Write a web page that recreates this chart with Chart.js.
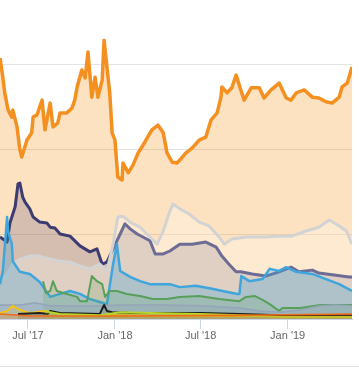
<!DOCTYPE html>
<html>
<head>
<meta charset="utf-8">
<script src="https://cdn.jsdelivr.net/npm/chart.js@4/dist/chart.umd.min.js"></script>
<style>
  html, body { margin: 0; padding: 0; background: #ffffff; }
  #wrap { width: 359px; height: 368px; position: relative; }
</style>
</head>
<body>
<div id="wrap"><canvas id="chart_dominance"></canvas></div>
<script>
// market share in %
const btcDates = ["2017-05-03","2017-05-09","2017-05-13","2017-05-20","2017-05-28","2017-05-30","2017-06-08","2017-06-14","2017-06-18","2017-06-29","2017-07-09","2017-07-12","2017-07-20","2017-07-31","2017-08-06","2017-08-17","2017-08-23","2017-09-02","2017-09-07","2017-09-21","2017-10-02","2017-10-08","2017-10-13","2017-10-23","2017-10-30","2017-11-05","2017-11-13","2017-11-20","2017-11-26","2017-12-05","2017-12-09","2017-12-15","2017-12-21","2017-12-26","2018-01-01","2018-01-07","2018-01-16","2018-01-18","2018-01-29","2018-02-08","2018-02-19","2018-03-05","2018-03-20","2018-04-02","2018-04-13","2018-04-21","2018-05-02","2018-05-12","2018-05-18","2018-05-31","2018-06-13","2018-06-28","2018-07-12","2018-07-23","2018-08-05","2018-08-13","2018-08-15","2018-08-26","2018-09-05","2018-09-14","2018-09-24","2018-10-01","2018-10-16","2018-11-02","2018-11-12","2018-11-27","2018-12-14","2018-12-29","2019-01-08","2019-01-19","2019-02-05","2019-02-22","2019-03-08","2019-03-23","2019-04-05","2019-04-20","2019-04-26","2019-05-07","2019-05-17"];
const btcValues = [61.4,56.9,53.2,49.2,47.5,49.2,45.2,39.8,38.1,42.1,43.8,47.5,48.0,51.5,44.5,50.8,45.2,46.1,48.5,48.5,49.6,51.5,54.6,58.6,56.7,62.8,52.2,56.9,52.2,56.2,65.6,59.3,53.2,43.8,42.1,33.4,32.7,36.7,34.4,36.2,39.1,41.6,44.5,45.6,43.8,39.1,36.9,36.7,37.4,39.1,40.2,42.1,42.8,46.8,48.5,52.2,54.6,53.2,54.4,57.4,53.9,51.5,54.4,54.4,52.0,53.9,55.5,52.0,51.5,53.2,53.9,52.2,52.0,51.1,50.8,52.2,54.6,55.5,59.3];

const ethDates = ["2017-05-03","2017-05-18","2017-05-24","2017-06-04","2017-06-10","2017-06-14","2017-06-20","2017-06-25","2017-07-05","2017-07-12","2017-07-26","2017-08-10","2017-08-17","2017-08-27","2017-09-07","2017-09-28","2017-10-19","2017-11-09","2017-11-24","2017-12-05","2017-12-15","2017-12-28","2018-01-12","2018-01-22","2018-02-02","2018-02-17","2018-03-01","2018-03-16","2018-03-27","2018-04-13","2018-04-27","2018-05-18","2018-06-13","2018-07-12","2018-08-03","2018-08-15","2018-08-30","2018-09-14","2018-09-24","2018-10-18","2018-11-16","2018-12-14","2019-01-08","2019-01-25","2019-02-22","2019-03-08","2019-04-05","2019-05-11","2019-05-17"];
const ethValues = [19.3,18.1,22.6,26.4,31.8,32.0,28.7,27.5,25.9,24.0,22.8,22.6,21.6,21.4,20.0,19.5,17.2,15.8,16.5,12.9,13.4,16.5,20.0,22.4,21.2,20.0,19.3,18.4,15.3,15.3,16.0,17.6,17.6,18.1,16.9,14.8,12.9,11.1,11.1,10.6,10.1,11.1,12.2,11.1,11.5,10.8,10.4,9.9,9.9];

const otherDates = ["2017-05-03","2017-05-18","2017-05-30","2017-06-14","2017-07-05","2017-07-26","2017-08-17","2017-09-07","2017-09-28","2017-10-19","2017-11-09","2017-11-30","2017-12-15","2017-12-28","2018-01-07","2018-01-18","2018-02-02","2018-02-23","2018-03-16","2018-03-31","2018-04-13","2018-04-27","2018-05-04","2018-05-18","2018-06-07","2018-06-28","2018-07-19","2018-08-09","2018-08-20","2018-09-05","2018-10-05","2018-11-16","2018-12-14","2019-01-10","2019-02-09","2019-03-08","2019-03-30","2019-04-20","2019-05-05","2019-05-17"];
const otherValues = [8.9,10.6,12.9,14.1,14.8,14.8,14.1,13.6,13.4,12.5,11.8,12.9,11.3,17.6,24.0,24.2,22.8,21.6,19.3,17.6,20.7,25.4,27.1,25.9,24.7,22.8,21.9,19.3,17.6,18.8,19.3,19.3,19.5,19.5,20.7,21.6,23.3,21.9,20.7,17.6];

const xrpDates = ["2017-05-03","2017-05-09","2017-05-18","2017-05-20","2017-05-28","2017-05-30","2017-06-14","2017-07-05","2017-07-26","2017-08-17","2017-09-07","2017-09-28","2017-10-19","2017-11-09","2017-11-30","2017-12-15","2017-12-28","2018-01-05","2018-01-12","2018-02-02","2018-02-23","2018-03-16","2018-04-06","2018-04-27","2018-05-18","2018-06-21","2018-07-25","2018-08-24","2018-09-17","2018-09-21","2018-09-25","2018-10-12","2018-11-09","2018-11-24","2018-12-14","2018-12-29","2019-01-19","2019-02-22","2019-03-23","2019-04-20","2019-05-17"];
const xrpValues = [8.2,11.3,24.0,20.7,17.6,13.6,11.1,10.6,8.7,5.2,5.9,6.6,5.9,4.7,4.0,3.5,12.9,17.6,11.3,9.9,8.9,8.2,8.2,8.2,7.5,7.8,7.1,6.4,5.9,5.9,10.1,8.9,9.4,11.8,11.3,12.2,11.1,10.6,9.4,8.2,6.6];

const bchDates = ["2017-08-02","2017-08-08","2017-08-17","2017-08-23","2017-08-31","2017-09-21","2017-10-13","2017-10-19","2017-11-03","2017-11-13","2017-11-24","2017-12-05","2017-12-11","2017-12-21","2018-01-05","2018-01-26","2018-02-23","2018-03-22","2018-04-21","2018-05-18","2018-06-28","2018-08-09","2018-09-21","2018-10-05","2018-10-24","2018-11-09","2018-11-24","2018-12-14","2018-12-21","2019-01-27","2019-03-11","2019-04-11","2019-05-17"];
const bchValues = [8.9,6.1,6.6,8.9,6.6,5.9,5.2,4.2,4.2,10.1,8.9,8.2,5.2,6.6,6.6,5.9,5.4,4.7,4.7,5.2,5.4,4.7,4.2,5.2,5.4,4.5,3.5,1.9,2.6,2.6,3.3,3.3,3.3];

const ltcDates = ["2017-05-03","2017-06-14","2017-07-16","2017-08-17","2017-11-30","2018-01-12","2018-04-06","2018-06-30","2018-09-22","2018-11-04","2018-12-16","2019-01-27","2019-03-11","2019-04-11","2019-05-17"];
const ltcValues = [3.3,3.3,3.8,3.1,3.1,3.3,3.3,3.1,2.6,1.9,1.6,2.1,3.1,3.3,3.1];

const dashDates = ["2017-05-03","2017-05-18","2017-05-30","2017-06-14","2017-07-05","2017-08-06","2017-09-07","2018-01-12","2018-09-22","2019-05-17"];
const dashValues = [1.4,1.9,3.1,2.1,1.4,1.9,1.2,0.9,0.7,0.7];

const eosDates = ["2017-06-10","2017-07-26","2017-08-12","2017-08-17","2017-09-07","2017-11-30","2017-12-05","2017-12-09","2017-12-15","2017-12-26","2018-02-02","2018-06-30","2018-09-22","2018-12-16","2019-05-17"];
const eosValues = [1.2,1.4,1.2,1.9,1.4,1.2,2.4,3.3,1.9,1.6,1.4,1.4,1.2,0.9,0.9];

const limeDates = ["2017-08-06","2017-08-17","2017-09-07","2017-11-30","2018-01-12","2018-03-16","2018-06-30","2018-09-22","2018-12-16","2019-05-17"];
const limeValues = [1.9,1.6,1.2,0.9,1.6,1.4,1.2,0.9,0.5,0.5];

const smallDates = ["2017-05-03","2017-07-05","2018-01-12","2018-09-22","2019-05-17"];
const smallValues = [1.2,0.7,0.7,0.9,1.2];

const tickDates = ["2017-07-01","2018-01-01","2018-07-01","2019-01-01"];
const monthNames = ["Jan","Feb","Mar","Apr","May","Jun","Jul","Aug","Sep","Oct","Nov","Dec"];

function day(s) {
  return Date.parse(s + "T00:00:00Z");
}

function points(dates, values) {
  return dates.map((d, i) => ({ x: day(d), y: values[i] }));
}

function series(label, dates, values, line, fill, width, order) {
  return {
    label: label,
    data: points(dates, values),
    borderColor: line,
    backgroundColor: fill,
    borderWidth: width,
    borderJoinStyle: "round",
    fill: "origin",
    pointRadius: 0,
    tension: 0,
    order: order,
  };
}

// thin line along the bottom (navigator edge)
const bottomLine = {
  id: "bottomLine",
  afterDraw(chart) {
    const c = chart.ctx;
    c.save();
    c.strokeStyle = "#e2e2e2";
    c.lineWidth = 1;
    c.beginPath();
    c.moveTo(0, 366.5);
    c.lineTo(chart.width, 366.5);
    c.stroke();
    c.restore();
  },
};

function drawChart() {
  var ctx = document.getElementById("chart_dominance").getContext("2d");
  return new Chart(ctx, {
    type: "line",
    data: {
      datasets: [
        series("Bitcoin", btcDates, btcValues, "#f39020", "rgba(247,147,26,0.27)", 3.5, 10),
        series("Ethereum", ethDates, ethValues, "#3c3b72", "rgba(70,60,110,0.22)", 3, 9),
        series("Others", otherDates, otherValues, "#d3d3d3", "rgba(255,255,255,0.25)", 3, 8),
        series("XRP", xrpDates, xrpValues, "#3ea6dc", "rgba(62,166,220,0.3)", 2.5, 7),
        series("Bitcoin Cash", bchDates, bchValues, "#58a05a", "rgba(88,160,90,0.2)", 2, 6),
        series("Litecoin", ltcDates, ltcValues, "#95a4b8", "rgba(140,160,185,0.3)", 1.5, 5),
        series("Dash", dashDates, dashValues, "#f2c21b", "rgba(242,194,27,0.2)", 2, 4),
        series("EOS", eosDates, eosValues, "#1e1e1e", "rgba(30,30,30,0.1)", 2, 3),
        series("Stellar", limeDates, limeValues, "#b9d52c", "rgba(185,213,44,0.2)", 2, 2),
        series("Monero", smallDates, smallValues, "#ee6b1c", "rgba(238,107,28,0.2)", 1.5, 1),
      ],
    },
    options: {
      animation: false,
      responsive: true,
      maintainAspectRatio: false,
      layout: {
        padding: { left: 0, right: 7, top: 0, bottom: 0 },
      },
      plugins: {
        legend: { display: false },
        tooltip: { enabled: false },
      },
      scales: {
        x: {
          type: "linear",
          min: day(btcDates[0]),
          max: day(btcDates[btcDates.length - 1]),
          afterBuildTicks: (scale) => {
            scale.ticks = tickDates.map((d) => ({ value: day(d) }));
          },
          afterFit: (scale) => {
            scale.height = 49;
          },
          border: { display: true, color: "#ccd6eb", width: 1 },
          grid: {
            drawOnChartArea: false,
            drawTicks: true,
            tickLength: 10,
            color: "#ccd6eb",
          },
          ticks: {
            autoSkip: false,
            maxRotation: 0,
            padding: 0,
            color: "#666666",
            font: { family: "'Liberation Sans', Arial, sans-serif", size: 11 },
            callback: function (value) {
              var d = new Date(value);
              return monthNames[d.getUTCMonth()] + " '" + String(d.getUTCFullYear()).slice(2);
            },
          },
        },
        y: {
          min: 0,
          max: 319 / 4.25,
          afterBuildTicks: (scale) => {
            scale.ticks = [0, 20, 40, 60].map((v) => ({ value: v }));
          },
          afterFit: (scale) => {
            scale.width = 0;
          },
          border: { display: false },
          grid: { drawTicks: false, color: "#e3e3e3" },
          ticks: { display: false },
        },
      },
    },
    plugins: [bottomLine],
  });
}

drawChart();
</script>
</body>
</html>
